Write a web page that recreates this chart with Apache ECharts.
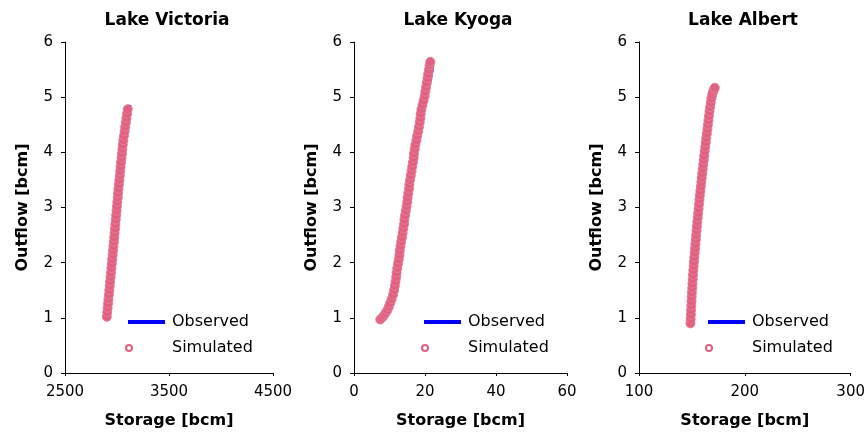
<!DOCTYPE html>
<html>
<head>
<meta charset="utf-8">
<title>Storage - Outflow</title>
<script src="https://cdn.jsdelivr.net/npm/echarts@6/dist/echarts.min.js"></script>
<style>
html, body { margin: 0; padding: 0; background: #fff; }
#main { width: 868px; height: 434px; }
</style>
</head>
<body>
<div id="main"></div>
<script>
// lakes, one panel each
var lakeNames = [ 'Lake Victoria', 'Lake Kyoga', 'Lake Albert' ];
var yTicks = [ 0, 6, 1 ]; // min, max, step (Outflow)
var xTicks = [ [ 2500, 4500, 1000 ], [ 0, 60, 20 ], [ 100, 300, 100 ] ];

// Lake Victoria
var vicSimS = [ 2902, 2906, 2910, 2914, 2918, 2922, 2926, 2930, 2934, 2938,
		2942, 2946, 2950, 2954, 2958, 2962, 2966, 2970, 2973, 2977, 2981,
		2984, 2988, 2992, 2996, 2999, 3003, 3007, 3010, 3014, 3018, 3023,
		3027, 3031, 3035, 3039, 3044, 3048, 3052, 3056, 3061, 3067, 3073,
		3079, 3085, 3091, 3097, 3103 ];
var vicSimQ = [ 1.02, 1.10, 1.18, 1.26, 1.34, 1.42, 1.50, 1.58, 1.66, 1.74,
		1.82, 1.90, 1.98, 2.06, 2.14, 2.22, 2.30, 2.38, 2.46, 2.54, 2.62,
		2.70, 2.78, 2.86, 2.94, 3.02, 3.10, 3.18, 3.26, 3.34, 3.42, 3.50,
		3.58, 3.66, 3.74, 3.82, 3.90, 3.98, 4.06, 4.14, 4.22, 4.30, 4.38,
		4.46, 4.54, 4.62, 4.70, 4.78 ];
var vicObsS = [ 2903, 2930, 2960, 2990, 3020, 3050, 3075, 3095, 3108, 3114, 3118 ];
var vicObsQ = [ 1.05, 1.55, 2.2, 2.75, 3.4, 3.95, 4.35, 4.55, 4.65, 4.76, 4.86 ];

// Lake Kyoga
var kyoSimS = [ 7.4, 7.9, 8.4, 8.9, 9.4, 9.8, 10.2, 10.6, 11.0, 11.3, 11.5,
		11.7, 11.9, 12.0, 12.2, 12.4, 12.6, 12.8, 12.9, 13.1, 13.3, 13.5,
		13.7, 13.9, 14.1, 14.2, 14.4, 14.6, 14.8, 15.0, 15.1, 15.3, 15.5,
		15.6, 15.8, 16.0, 16.2, 16.4, 16.6, 16.8, 16.9, 17.1, 17.3, 17.6,
		17.8, 18.1, 18.3, 18.5, 18.7, 18.8, 19.0, 19.3, 19.6, 19.9, 20.1,
		20.3, 20.5, 20.7, 20.9, 21.1, 21.3, 21.5 ];
var kyoSimQ = [ 0.97, 1.00, 1.04, 1.09, 1.14, 1.20, 1.27, 1.34, 1.42, 1.50,
		1.58, 1.66, 1.74, 1.82, 1.90, 1.98, 2.06, 2.14, 2.22, 2.30, 2.38,
		2.46, 2.54, 2.62, 2.70, 2.78, 2.86, 2.94, 3.02, 3.10, 3.18, 3.26,
		3.34, 3.42, 3.50, 3.58, 3.66, 3.74, 3.82, 3.90, 3.98, 4.06, 4.14,
		4.22, 4.30, 4.38, 4.46, 4.54, 4.62, 4.70, 4.78, 4.86, 4.94, 5.02,
		5.10, 5.18, 5.26, 5.34, 5.42, 5.50, 5.58, 5.64 ];
var kyoObsS = [ 7.5, 10.3, 12.2, 13.9, 15.9, 17.3, 19.2, 20.4, 21.3, 21.9, 22.0 ];
var kyoObsQ = [ 1.0, 1.2, 1.85, 2.6, 3.55, 4.2, 4.85, 5.1, 5.3, 5.5, 5.58 ];

// Lake Albert
var albSimS = [ 148.6, 148.8, 149.0, 149.2, 149.4, 149.6, 149.8, 150.0,
		150.3, 150.5, 150.8, 151.0, 151.3, 151.6, 151.9, 152.3, 152.6, 153.0,
		153.3, 153.7, 154.0, 154.4, 154.7, 155.1, 155.5, 155.9, 156.3, 156.7,
		157.1, 157.5, 158.0, 158.4, 158.9, 159.3, 159.8, 160.2, 160.7, 161.2,
		161.6, 162.1, 162.6, 163.1, 163.6, 164.1, 164.6, 165.1, 165.6, 166.1,
		166.6, 167.2, 167.8, 168.4, 169.2, 170.0, 170.8, 171.6 ];
var albSimQ = [ 0.90, 0.98, 1.06, 1.14, 1.22, 1.30, 1.38, 1.46, 1.54, 1.62,
		1.70, 1.78, 1.86, 1.94, 2.02, 2.10, 2.18, 2.26, 2.34, 2.42, 2.50,
		2.58, 2.66, 2.74, 2.82, 2.90, 2.98, 3.06, 3.14, 3.22, 3.30, 3.38,
		3.46, 3.54, 3.62, 3.70, 3.78, 3.86, 3.94, 4.02, 4.10, 4.18, 4.26,
		4.34, 4.42, 4.50, 4.58, 4.66, 4.74, 4.82, 4.90, 4.98, 5.05, 5.10,
		5.14, 5.17 ];
var albObsS = [ 149.0, 152.0, 156.3, 162.0, 168.0, 171.0, 172.3 ];
var albObsQ = [ 0.92, 2.0, 3.0, 4.0, 4.93, 5.0, 5.1 ];

var simS = [ vicSimS, kyoSimS, albSimS ];
var simQ = [ vicSimQ, kyoSimQ, albSimQ ];
var obsS = [ vicObsS, kyoObsS, albObsS ];
var obsQ = [ vicObsQ, kyoObsQ, albObsQ ];

function pairs(xs, ys) {
	var out = [];
	for ( var i = 0; i < xs.length; i++) {
		out.push([ xs[i], ys[i] ]);
	}
	return out;
}

var myChart = echarts.init(document.getElementById('main'));

// panel placement (px)
var gridLeft = [ 65, 354, 639 ];
var gridWidth = [ 208, 213, 213 ];
var titleX = [ 167, 458, 743 ];
var legendX = [ 128, 424, 708 ];

var pink = '#E06080';
var blue = '#0000FF';
var nameFont = {
	fontFamily : 'DejaVu Sans',
	fontWeight : 'bold',
	fontSize : 16,
	color : '#000'
};
var tickFont = {
	fontFamily : 'DejaVu Sans',
	fontSize : 15,
	color : '#000'
};

var titles = [], grids = [], xAxes = [], yAxes = [], series = [], legends = [];
for ( var i = 0; i < lakeNames.length; i++) {
	titles.push({
		text : lakeNames[i],
		left : titleX[i],
		top : 12,
		padding : 0,
		textAlign : 'center',
		textStyle : {
			fontFamily : 'DejaVu Sans',
			fontWeight : 'bold',
			fontSize : 17,
			color : '#000'
		}
	});
	grids.push({
		left : gridLeft[i],
		top : 42,
		width : gridWidth[i],
		height : 331
	});
	xAxes.push({
		gridIndex : i,
		type : 'value',
		min : xTicks[i][0],
		max : xTicks[i][1],
		interval : xTicks[i][2],
		name : 'Storage [bcm]',
		nameLocation : 'middle',
		nameGap : 40,
		nameTextStyle : nameFont,
		splitLine : { show : false },
		axisLine : { lineStyle : { color : '#000', width : 1 } },
		axisTick : { length : 3, lineStyle : { color : '#000' } },
		axisLabel : {
			margin : 12,
			fontFamily : tickFont.fontFamily,
			fontSize : tickFont.fontSize,
			color : tickFont.color,
			showMaxLabel : true,
			showMinLabel : true,
			formatter : function(v) {
				return String(v);
			}
		}
	});
	yAxes.push({
		gridIndex : i,
		type : 'value',
		min : yTicks[0],
		max : yTicks[1],
		interval : yTicks[2],
		name : 'Outflow [bcm]',
		nameLocation : 'middle',
		nameRotate : 90,
		nameGap : 34,
		nameTextStyle : nameFont,
		splitLine : { show : false },
		axisLine : { show : true, lineStyle : { color : '#000', width : 1 } },
		axisTick : { show : true, length : 4, lineStyle : { color : '#000' } },
		axisLabel : {
			margin : 12,
			fontFamily : tickFont.fontFamily,
			fontSize : tickFont.fontSize,
			color : tickFont.color
		}
	});
	// observed under, simulated on top (dense markers make a band)
	series.push({
		name : 'Observed',
		type : 'line',
		xAxisIndex : i,
		yAxisIndex : i,
		data : pairs(obsS[i], obsQ[i]),
		symbol : 'none',
		color : blue,
		lineStyle : { color : blue, width : 4 },
		z : 2
	});
	series.push({
		name : 'Simulated',
		type : 'scatter',
		xAxisIndex : i,
		yAxisIndex : i,
		data : pairs(simS[i], simQ[i]),
		symbol : 'circle',
		symbolSize : 9,
		itemStyle : {
			color : pink,
			borderColor : '#E87C96',
			borderWidth : 1,
			opacity : 1
		},
		z : 3
	});
	legends.push({
		data : [ { name : 'Observed', icon : 'rect' } ],
		left : legendX[i],
		top : 314,
		padding : 0,
		itemWidth : 37,
		itemHeight : 4,
		selectedMode : false,
		itemStyle : { color : blue },
		textStyle : {
			fontFamily : 'DejaVu Sans',
			fontSize : 16,
			color : '#000',
			padding : [ 0, 0, 0, 2 ]
		}
	});
	legends.push({
		data : [ { name : 'Simulated', icon : 'emptyCircle' } ],
		left : legendX[i] - 3,
		top : 340,
		padding : 0,
		itemWidth : 6,
		itemHeight : 6,
		selectedMode : false,
		textStyle : {
			fontFamily : 'DejaVu Sans',
			fontSize : 16,
			color : '#000',
			padding : [ 0, 0, 0, 35 ]
		}
	});
}

var option = {
	backgroundColor : '#fff',
	animation : false,
	title : titles,
	grid : grids,
	xAxis : xAxes,
	yAxis : yAxes,
	legend : legends,
	series : series
};
myChart.setOption(option);
</script>
</body>
</html>
